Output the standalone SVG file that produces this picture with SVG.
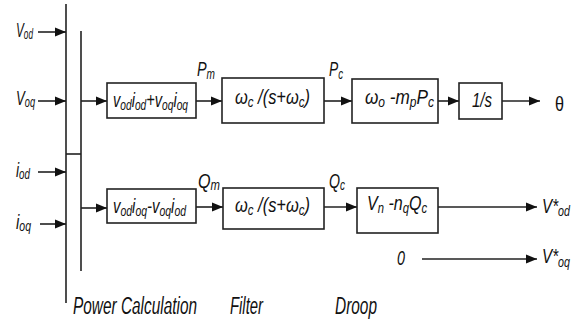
<svg xmlns="http://www.w3.org/2000/svg" width="580" height="324" viewBox="0 0 580 324">
<defs>
<marker id="ah" markerUnits="userSpaceOnUse" markerWidth="12" markerHeight="10" refX="11" refY="5" orient="auto">
<path d="M0,0.5 L11,5 L0,9.5 Z" fill="#111"/>
</marker>
<style>
.ln{stroke:#222;stroke-width:1.6;fill:none}
.ar{stroke:#222;stroke-width:1.6;fill:none;marker-end:url(#ah)}
.bx{stroke:#222;stroke-width:1.6;fill:#fff}
text{font-family:"Liberation Sans",Arial,sans-serif;font-style:italic;font-size:20px;fill:#111}
.s{font-size:14px}
.up{font-style:normal}
.lb{font-size:23px}
</style>
</defs>
<rect width="580" height="324" fill="#fff"/>
<g id="connectors">
<line class="ln" x1="66" y1="4" x2="66" y2="303"/>
<line class="ln" x1="81" y1="31" x2="81" y2="271"/>
<line class="ln" x1="66" y1="154" x2="81" y2="154"/>
<line class="ar" x1="38" y1="32" x2="66" y2="32"/>
<line class="ar" x1="38" y1="101" x2="66" y2="101"/>
<line class="ar" x1="38" y1="172" x2="66" y2="172"/>
<line class="ar" x1="40" y1="224" x2="66" y2="224"/>
<line class="ar" x1="81" y1="101" x2="107" y2="101"/>
<line class="ar" x1="81" y1="208" x2="107" y2="208"/>
<line class="ar" x1="196" y1="101" x2="222" y2="101"/>
<line class="ar" x1="324" y1="101" x2="352" y2="101"/>
<line class="ar" x1="438" y1="101" x2="459" y2="101"/>
<line class="ar" x1="502" y1="101" x2="540" y2="101"/>
<line class="ar" x1="196" y1="207" x2="223" y2="207"/>
<line class="ar" x1="324" y1="207" x2="357" y2="207"/>
<line class="ar" x1="438" y1="207" x2="537" y2="207"/>
<line class="ar" x1="422" y1="259" x2="537" y2="259"/>
</g>
<g id="inputs">
<text x="16" y="37" textLength="17" lengthAdjust="spacingAndGlyphs">V<tspan class="s" dy="2">od</tspan></text>
<text x="16" y="105" textLength="19" lengthAdjust="spacingAndGlyphs">V<tspan class="s" dy="2">oq</tspan></text>
<text x="16" y="177" textLength="14" lengthAdjust="spacingAndGlyphs">i<tspan class="s" dy="2">od</tspan></text>
<text x="16" y="229" textLength="15" lengthAdjust="spacingAndGlyphs">i<tspan class="s" dy="2">oq</tspan></text>
</g>
<g id="pcalc-p">
<rect class="bx" x="107" y="83" width="89" height="35"/>
<text x="113" y="107" textLength="75" lengthAdjust="spacingAndGlyphs">v<tspan class="s" dy="3">od</tspan><tspan dy="-3">i</tspan><tspan class="s" dy="3">od</tspan><tspan dy="-3">+v</tspan><tspan class="s" dy="3">oq</tspan><tspan dy="-3">i</tspan><tspan class="s" dy="3">oq</tspan></text>
</g>
<g id="pcalc-q">
<rect class="bx" x="107" y="189" width="89" height="34"/>
<text x="113" y="213" textLength="73" lengthAdjust="spacingAndGlyphs">v<tspan class="s" dy="3">od</tspan><tspan dy="-3">i</tspan><tspan class="s" dy="3">oq</tspan><tspan dy="-3">-v</tspan><tspan class="s" dy="3">oq</tspan><tspan dy="-3">i</tspan><tspan class="s" dy="3">od</tspan></text>
</g>
<g id="filter-p">
<rect class="bx" x="222" y="78" width="102" height="45"/>
<text x="235" y="104" textLength="75" lengthAdjust="spacingAndGlyphs">ω<tspan class="s" dy="3">c</tspan><tspan dy="-3"> /(s+ω</tspan><tspan class="s" dy="3">c</tspan><tspan dy="-3">)</tspan></text>
</g>
<g id="filter-q">
<rect class="bx" x="223" y="188" width="101" height="41"/>
<text x="235" y="212" textLength="75" lengthAdjust="spacingAndGlyphs">ω<tspan class="s" dy="3">c</tspan><tspan dy="-3"> /(s+ω</tspan><tspan class="s" dy="3">c</tspan><tspan dy="-3">)</tspan></text>
</g>
<g id="droop-p">
<rect class="bx" x="352" y="79" width="86" height="44"/>
<text x="365" y="104" textLength="69" lengthAdjust="spacingAndGlyphs">ω<tspan class="s" dy="3">o</tspan><tspan dy="-3"> -m</tspan><tspan class="s" dy="3">p</tspan><tspan dy="-3">P</tspan><tspan class="s" dy="3">c</tspan></text>
</g>
<g id="droop-q">
<rect class="bx" x="357" y="188" width="81" height="45"/>
<text x="367" y="210" textLength="60" lengthAdjust="spacingAndGlyphs">V<tspan class="s" dy="3">n</tspan><tspan dy="-3"> -n</tspan><tspan class="s" dy="3">q</tspan><tspan dy="-3">Q</tspan><tspan class="s" dy="3">c</tspan></text>
</g>
<g id="integrator">
<rect class="bx" x="459" y="83" width="43" height="36"/>
<text x="472" y="107" textLength="20" lengthAdjust="spacingAndGlyphs">1/s</text>
</g>
<g id="signals">
<text x="197" y="76" textLength="18" lengthAdjust="spacingAndGlyphs">P<tspan class="s" dy="3">m</tspan></text>
<text x="329" y="76" textLength="14" lengthAdjust="spacingAndGlyphs">P<tspan class="s" dy="3">c</tspan></text>
<text x="198" y="188" textLength="22" lengthAdjust="spacingAndGlyphs">Q<tspan class="s" dy="2">m</tspan></text>
<text x="329" y="188" textLength="16" lengthAdjust="spacingAndGlyphs">Q<tspan class="s" dy="2">c</tspan></text>
</g>
<g id="outputs">
<text class="up" x="555" y="111" textLength="9" lengthAdjust="spacingAndGlyphs">θ</text>
<text x="542" y="213" textLength="28" lengthAdjust="spacingAndGlyphs">V*<tspan class="s" dy="3">od</tspan></text>
<text x="397" y="265" textLength="8" lengthAdjust="spacingAndGlyphs">0</text>
<text x="542" y="263" textLength="28" lengthAdjust="spacingAndGlyphs">V*<tspan class="s" dy="4">oq</tspan></text>
</g>
<g id="labels">
<text class="lb" x="73" y="314" textLength="124" lengthAdjust="spacingAndGlyphs">Power Calculation</text>
<text class="lb" x="230" y="314" textLength="33" lengthAdjust="spacingAndGlyphs">Filter</text>
<text class="lb" x="335" y="314" textLength="42" lengthAdjust="spacingAndGlyphs">Droop</text>
</g>
</svg>
